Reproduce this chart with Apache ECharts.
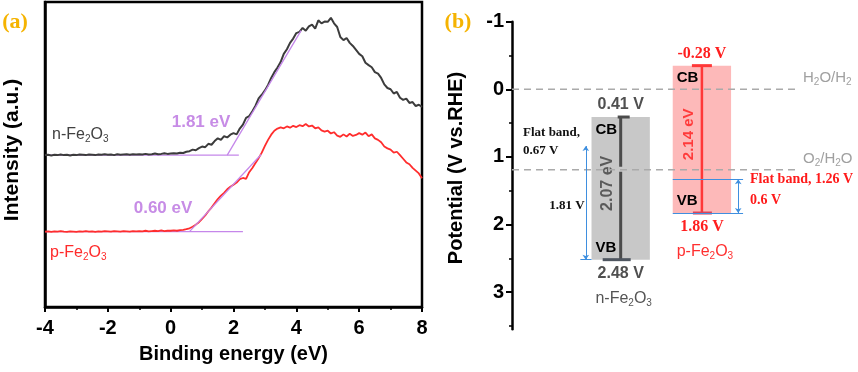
<!DOCTYPE html>
<html>
<head>
<meta charset="utf-8">
<script src="https://cdn.jsdelivr.net/npm/echarts@6/dist/echarts.min.js"></script>
<style>
html, body { margin: 0; padding: 0; background: #fff; }
#chart { width: 858px; height: 372px; }
</style>
</head>
<body>
<div id="chart"></div>
<script>
// (a) spectra, one value every 0.1 eV from -4 to 8 eV
var energyStart = -4;
var energyStep = 0.1;
var nFe2O3 = [
  49.8, 49.9, 49.7, 49.9, 49.8, 50.0, 49.8, 49.9, 49.7, 49.9,
  49.8, 50.0, 49.9, 49.8, 50.0, 49.9, 49.8, 50.0, 49.9, 50.1,
  49.9, 50.0, 49.8, 50.1, 49.9, 50.0, 50.1, 49.9, 50.1, 50.0,
  50.1, 50.0, 50.2, 50.0, 50.1, 50.3, 50.1, 50.2, 50.4, 50.2,
  50.3, 50.4, 50.3, 50.6, 50.5, 50.9, 51.1, 51.6, 51.4, 52.1,
  52.6, 52.4, 53.5, 53.2, 54.4, 55.3, 54.8, 56.0, 55.6, 56.5,
  57.0, 56.6, 58.5, 59.8, 62.0, 62.6, 64.2, 66.0, 68.4, 69.6,
  71.0, 72.8, 75.1, 77.0, 78.5, 80.3, 83.0, 84.5, 86.6, 88.0,
  89.8, 90.2, 91.5, 90.6, 92.0, 92.6, 91.3, 94.0, 93.0, 93.6,
  93.5, 94.8, 93.0, 91.8, 88.5, 87.5, 88.2, 86.6, 85.6, 84.3,
  83.0, 82.2, 80.1, 79.3, 78.6, 77.0, 76.5, 75.1, 73.0, 71.8,
  71.4, 70.0, 70.5, 68.6, 67.9, 68.3, 66.9, 67.2, 65.9, 66.3,
  65.6
];
var pFe2O3 = [
  24.7, 24.8, 24.6, 24.8, 24.7, 24.9, 24.7, 24.6, 24.8, 24.7,
  24.6, 24.8, 24.7, 24.9, 24.7, 24.8, 24.6, 24.8, 24.7, 24.9,
  24.8, 24.7, 24.9, 24.8, 24.7, 24.9, 24.8, 24.7, 24.9, 24.8,
  24.9, 24.8, 25.0, 24.8, 24.9, 25.0, 24.9, 25.1, 24.9, 25.0,
  25.0, 25.1, 25.0, 25.2, 25.3, 25.5, 25.8, 26.3, 27.0, 27.8,
  28.9, 30.0, 31.4, 32.6, 34.0, 35.4, 36.5, 37.4, 38.6, 39.4,
  40.1, 40.8, 41.9, 42.3, 42.0, 44.2, 45.6, 47.2, 48.8, 50.6,
  52.8, 54.8, 56.5, 57.8, 58.5, 58.9, 58.6, 59.2, 58.8, 59.4,
  59.0, 59.6, 59.3, 60.0, 59.2, 59.5, 58.6, 58.9, 57.9, 57.5,
  57.8, 56.9, 57.3, 56.2, 55.8, 56.6, 55.9, 56.8, 56.1, 56.4,
  57.0, 56.5, 57.2, 56.0, 56.6, 55.3, 54.8, 54.0, 52.6, 52.0,
  51.6, 50.6, 50.9, 49.8, 48.6, 47.4, 46.8, 45.6, 44.7, 43.8,
  42.2
];
// tangent construction (baseline + linear edge)
var nBaseline = [[-4, 49.8], [2.17, 49.8]];
var nTangent = [[1.8, 49.8], [4.15, 90.6]];
var pBaseline = [[-4, 24.7], [2.3, 24.7]];
var pTangent = [[0.6, 24.7], [2.88, 50.0]];

// (b) band edges, V vs. RHE
var materials = ['n-Fe2O3', 'p-Fe2O3'];
var cbEdge = [0.41, -0.35];
var vbEdge = [2.52, 1.83];
var cbText = ['0.41 V', '-0.28 V'];
var vbText = ['2.48 V', '1.86 V'];
var gapText = ['2.07 eV', '2.14 eV'];
var flatBand = [0.84, 1.33];
var redoxLevels = [0, 1.19];
var redoxNames = ['H2O/H2', 'O2/H2O'];
var potentialTicks = [-1, 0, 1, 2, 3];
var potentialMinor = [-0.5, 0.5, 1.5, 2.5, 3.5];

var SANS = '"Liberation Sans", Arial, sans-serif';
var SERIF = '"Liberation Serif", "Times New Roman", serif';

function toPairs(arr) {
  return arr.map(function (v, i) {
    return [+(energyStart + i * energyStep).toFixed(1), v];
  });
}

// chemical formula with subscripts as rich text
function formula(str) {
  return str.replace(/(\d)/g, '}{s|$1}{m|').replace(/^/, '{m|') + '}';
}
function richFor(color, size, weight) {
  return {
    m: { fontSize: size, fontFamily: SANS, fontWeight: weight, fill: color, color: color, lineHeight: size + 3 },
    s: { fontSize: Math.round(size * 0.65), fontFamily: SANS, fontWeight: weight, fill: color, color: color, lineHeight: 9, verticalAlign: 'bottom' }
  };
}

var bandX = [3.80, 6.64];
var halfW = 1.02;
var bandStyle = [
  { bar: '#c8c8c8', line: '#4b4b4b', lineW: 3, capTop: [-3, 9], capBot: [-18, 10], capBotColor: '#4f5660',
    valColor: '#505050', valFont: 'bold 16px ' + SANS, gapColor: '#5a5a5a', gapFont: 'bold 16px ' + SANS,
    nameColor: '#555555', lineBreak: true },
  { bar: '#fdb9b9', line: '#ff3838', lineW: 2.5, capTop: [-10, 10], capBot: [-9, 10], capBotColor: '#d9455a',
    valColor: '#ff1f1f', valFont: 'bold 16px ' + SERIF, gapColor: '#ff3b3b', gapFont: 'bold 15px ' + SANS,
    nameColor: '#ff3030', lineBreak: false }
];

function renderBand(params, api) {
  var i = params.dataIndex;
  var s = bandStyle[i];
  var xc = api.value(0), top = api.value(1), bot = api.value(2);
  var p1 = api.coord([xc - halfW, top]);
  var p2 = api.coord([xc + halfW, bot]);
  var lt = api.coord([xc, top]);
  var lb = api.coord([xc, bot]);
  var kids = [];
  kids.push({ type: 'rect', shape: { x: p1[0], y: p1[1], width: p2[0] - p1[0], height: p2[1] - p1[1] },
    style: { fill: s.bar } });
  var lineStyle = { stroke: s.line, lineWidth: s.lineW };
  if (s.lineBreak) {
    var gy = api.coord([xc, redoxLevels[1]])[1];
    kids.push({ type: 'line', shape: { x1: lt[0], y1: lt[1], x2: lt[0], y2: gy - 3 }, style: lineStyle });
    kids.push({ type: 'line', shape: { x1: lt[0], y1: gy + 2, x2: lt[0], y2: lb[1] }, style: lineStyle });
  } else {
    kids.push({ type: 'line', shape: { x1: lt[0], y1: lt[1], x2: lt[0], y2: lb[1] }, style: lineStyle });
  }
  kids.push({ type: 'line', shape: { x1: lt[0] + s.capTop[0], y1: lt[1], x2: lt[0] + s.capTop[1], y2: lt[1] },
    style: { stroke: s.line, lineWidth: 3 } });
  kids.push({ type: 'line', shape: { x1: lb[0] + s.capBot[0], y1: lb[1], x2: lb[0] + s.capBot[1], y2: lb[1] },
    style: { stroke: s.capBotColor, lineWidth: 3 } });
  var edgeFont = 'bold 15px ' + SANS;
  kids.push({ type: 'text', x: p1[0] + 4, y: lt[1] + 12.5,
    style: { text: 'CB', font: edgeFont, fill: '#000', align: 'left', verticalAlign: 'middle' } });
  kids.push({ type: 'text', x: p1[0] + 4, y: lb[1] - 12,
    style: { text: 'VB', font: edgeFont, fill: '#000', align: 'left', verticalAlign: 'middle' } });
  kids.push({ type: 'text', x: lt[0], y: lt[1] - 12,
    style: { text: cbText[i], font: s.valFont, fill: s.valColor, align: 'center', verticalAlign: 'middle' } });
  kids.push({ type: 'text', x: lb[0], y: lb[1] + 13.5,
    style: { text: vbText[i], font: s.valFont, fill: s.valColor, align: 'center', verticalAlign: 'middle' } });
  kids.push({ type: 'text', x: lb[0] + 3, y: lb[1] + 39,
    style: { text: formula(materials[i]), rich: richFor(s.nameColor, 16, 'normal'), align: 'center', verticalAlign: 'middle' } });
  kids.push({ type: 'text', x: lt[0] - 13, y: (lt[1] + lb[1]) / 2 - 5, rotation: Math.PI / 2,
    style: { text: gapText[i], font: s.gapFont, fill: s.gapColor, align: 'center', verticalAlign: 'middle' } });
  return { type: 'group', children: kids };
}

function renderRedox(params, api) {
  var v = api.value(0);
  var a = api.coord([0, v]);
  var b = api.coord([10, v]);
  return { type: 'group', children: [
    { type: 'line', shape: { x1: a[0], y1: a[1], x2: b[0], y2: b[1] },
      style: { stroke: '#aaaaaa', lineWidth: 1.6, lineDash: [7, 5] } },
    { type: 'text', x: b[0] + 5, y: a[1] - 11,
      style: { text: formula(redoxNames[params.dataIndex]), rich: richFor('#a0a0a0', 15, 'normal'), align: 'left', verticalAlign: 'middle' } }
  ] };
}

var blue = '#3f8fdf';
var chart = echarts.init(document.getElementById('chart'));
var option = {
  animation: false,
  grid: [
    { left: 45, top: 2, width: 377, height: 305, show: true, borderColor: '#000', borderWidth: 2.5 },
    { left: 512, top: 21.7, width: 286, height: 307.6 }
  ],
  xAxis: [
    { gridIndex: 0, type: 'value', min: -4, max: 8, interval: 2,
      axisLine: { onZero: false, lineStyle: { color: '#000', width: 2.5 } },
      axisTick: { length: 5, lineStyle: { color: '#000', width: 2 } },
      minorTick: { show: true, splitNumber: 2, length: 3, lineStyle: { color: '#000', width: 1.5 } },
      splitLine: { show: false },
      axisLabel: { fontSize: 20, fontWeight: 'bold', color: '#000', fontFamily: SANS, margin: 11 },
      name: 'Binding energy (eV)', nameLocation: 'middle', nameGap: 37,
      nameTextStyle: { fontSize: 20, fontWeight: 'bold', color: '#000', fontFamily: SANS } },
    { gridIndex: 1, type: 'value', min: 0, max: 10, show: false }
  ],
  yAxis: [
    { gridIndex: 0, type: 'value', min: 0, max: 100,
      axisLine: { show: true, onZero: false, lineStyle: { color: '#000', width: 2.5 } },
      axisTick: { show: false }, axisLabel: { show: false }, splitLine: { show: false } },
    { gridIndex: 1, type: 'value', position: 'left', inverse: true, min: -1, max: 3.55, interval: 1,
      axisLine: { show: true, onZero: false, lineStyle: { color: '#000', width: 2.5 } },
      axisTick: { length: 6, lineStyle: { color: '#000', width: 2 }, customValues: potentialTicks },
      axisLabel: { fontSize: 20, fontWeight: 'bold', color: '#000', fontFamily: SANS, margin: 8,
        customValues: potentialTicks },
      splitLine: { show: false } },
    { gridIndex: 1, type: 'value', position: 'left', inverse: true, min: -1, max: 3.55,
      axisLine: { show: false, onZero: false },
      axisTick: { length: 3, lineStyle: { color: '#000', width: 1.5 }, customValues: potentialMinor },
      axisLabel: { show: false }, splitLine: { show: false } }
  ],
  series: [
    { type: 'line', xAxisIndex: 0, yAxisIndex: 0, data: toPairs(nFe2O3), showSymbol: false,
      lineStyle: { color: '#3c3c3c', width: 2 }, z: 3 },
    { type: 'line', xAxisIndex: 0, yAxisIndex: 0, data: toPairs(pFe2O3), showSymbol: false,
      lineStyle: { color: '#ff2d2d', width: 1.8 }, z: 3 },
    { type: 'line', xAxisIndex: 0, yAxisIndex: 0, data: nBaseline, showSymbol: false, lineStyle: { color: '#c587ea', width: 1.3 }, z: 2 },
    { type: 'line', xAxisIndex: 0, yAxisIndex: 0, data: nTangent, showSymbol: false, lineStyle: { color: '#c587ea', width: 1.3 }, z: 4 },
    { type: 'line', xAxisIndex: 0, yAxisIndex: 0, data: pBaseline, showSymbol: false, lineStyle: { color: '#c587ea', width: 1.3 }, z: 2 },
    { type: 'line', xAxisIndex: 0, yAxisIndex: 0, data: pTangent, showSymbol: false, lineStyle: { color: '#c587ea', width: 1.3 }, z: 4 },
    { type: 'custom', xAxisIndex: 1, yAxisIndex: 1, renderItem: renderBand,
      data: materials.map(function (m, i) { return [bandX[i], cbEdge[i], vbEdge[i]]; }), z: 2 },
    { type: 'custom', xAxisIndex: 1, yAxisIndex: 1, renderItem: renderRedox,
      data: redoxLevels.map(function (v) { return [v]; }), z: 5 },
    { type: 'lines', coordinateSystem: 'cartesian2d', xAxisIndex: 1, yAxisIndex: 1,
      symbol: ['none', 'none'], lineStyle: { color: blue, width: 1, opacity: 1 }, z: 6,
      data: [
        { coords: [[2.39, vbEdge[0]], [bandX[0] - halfW, vbEdge[0]]] },
        { coords: [[bandX[1] - halfW, flatBand[1]], [8.08, flatBand[1]]] },
        { coords: [[bandX[1] - halfW, vbEdge[1]], [8.08, vbEdge[1]]] }
      ] },
    { type: 'lines', coordinateSystem: 'cartesian2d', xAxisIndex: 1, yAxisIndex: 1,
      symbol: ['arrow', 'arrow'], symbolSize: 5, lineStyle: { color: blue, width: 1, opacity: 1 }, z: 6,
      data: [
        { coords: [[2.58, vbEdge[0]], [2.58, flatBand[0]]] },
        { coords: [[7.91, flatBand[1]], [7.91, vbEdge[1]]] }
      ] }
  ],
  graphic: [
    { type: 'text', x: 15, y: 22, style: { text: '(a)', font: 'bold 22px ' + SERIF, fill: '#f5b301', align: 'center', verticalAlign: 'middle' } },
    { type: 'text', x: 458, y: 22, style: { text: '(b)', font: 'bold 22px ' + SERIF, fill: '#f5b301', align: 'center', verticalAlign: 'middle' } },
    { type: 'text', x: 12, y: 150, rotation: Math.PI / 2, style: { text: 'Intensity (a.u.)', font: 'bold 21px ' + SANS, fill: '#000', align: 'center', verticalAlign: 'middle' } },
    { type: 'text', x: 456, y: 168, rotation: Math.PI / 2, style: { text: 'Potential (V vs.RHE)', font: 'bold 20px ' + SANS, fill: '#000', align: 'center', verticalAlign: 'middle' } },
    { type: 'text', x: 201, y: 122, style: { text: '1.81 eV', font: 'bold 17px ' + SANS, fill: '#c78ce6', align: 'center', verticalAlign: 'middle' } },
    { type: 'text', x: 163, y: 208, style: { text: '0.60 eV', font: 'bold 17px ' + SANS, fill: '#c78ce6', align: 'center', verticalAlign: 'middle' } },
    { type: 'text', x: 52, y: 135, style: { text: formula('n-Fe2O3'), rich: richFor('#404040', 16, 'normal'), align: 'left', verticalAlign: 'middle' } },
    { type: 'text', x: 50, y: 253, style: { text: formula('p-Fe2O3'), rich: richFor('#ff2a2a', 16, 'normal'), align: 'left', verticalAlign: 'middle' } },
    { type: 'text', x: 523, y: 133, style: { text: 'Flat band,', font: 'bold 13px ' + SERIF, fill: '#111', align: 'left', verticalAlign: 'middle' } },
    { type: 'text', x: 523, y: 151, style: { text: '0.67 V', font: 'bold 13px ' + SERIF, fill: '#111', align: 'left', verticalAlign: 'middle' } },
    { type: 'text', x: 567, y: 206, style: { text: '1.81 V', font: 'bold 13px ' + SERIF, fill: '#111', align: 'center', verticalAlign: 'middle' } },
    { type: 'text', x: 750, y: 179, style: { text: 'Flat band, 1.26 V', font: 'bold 14px ' + SERIF, fill: '#ff1a1a', align: 'left', verticalAlign: 'middle' } },
    { type: 'text', x: 750, y: 200, style: { text: '0.6 V', font: 'bold 14px ' + SERIF, fill: '#ff1a1a', align: 'left', verticalAlign: 'middle' } }
  ]
};
chart.setOption(option);
</script>
</body>
</html>
